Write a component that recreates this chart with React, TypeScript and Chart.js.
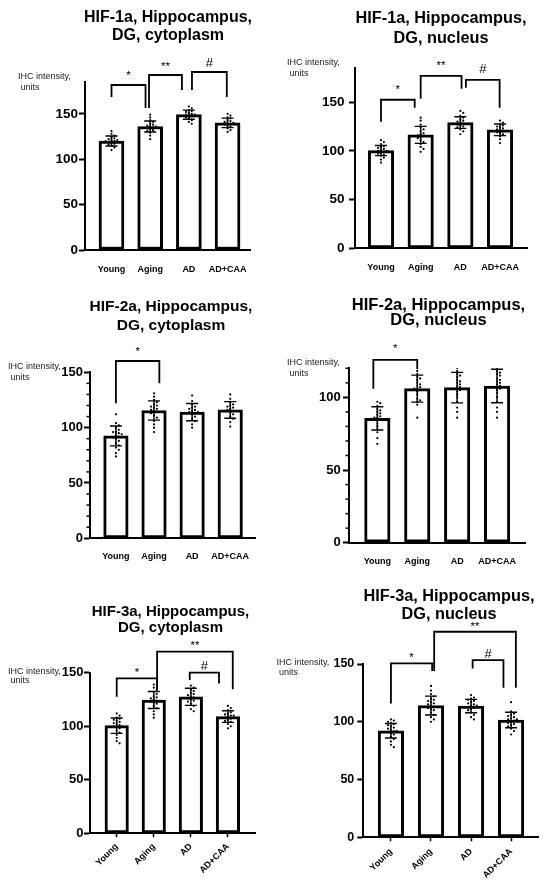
import React, { useEffect, useRef } from 'react';
import { Chart, registerables } from 'chart.js';

Chart.register(...registerables);

const FONT = '"Liberation Sans", Arial, Helvetica, sans-serif';
Chart.defaults.font.family = FONT;

// ---------------- data ----------------
const categories = ['Young', 'Aging', 'AD', 'AD+CAA'];
const yAxisTitleLines = ['IHC intensity,', ' units'];

// HIF-1a, cytoplasm
const hif1CytoTitle = ['HIF-1a, Hippocampus,', 'DG, cytoplasm'];
const hif1CytoMeans = [120, 136, 149, 140];
const hif1CytoSD = [5.5, 6, 5, 5.2];
const hif1CytoDots = [
  [131, 128, 126, 124, 123, 122, 121, 121, 120, 120, 119, 118, 117, 116, 115, 113, 110],
  [149, 146, 143, 141, 139, 138, 137, 136, 136, 135, 134, 133, 132, 131, 129, 126, 122],
  [158, 156, 154, 153, 152, 151, 150, 149, 149, 148, 147, 146, 145, 143, 141, 139],
  [150, 148, 146, 145, 143, 142, 141, 140, 140, 139, 138, 137, 136, 134, 132, 130],
];
const hif1CytoTicks = [0, 50, 100, 150];
const hif1CytoBrackets = [
  { from: 0, to: 0.88, top: 181.7, leftEnd: 168.5, rightEnd: 156.4, label: '*' },
  { from: 0.97, to: 1.82, top: 192.7, leftEnd: 156.4, rightEnd: 176.2, label: '**' },
  { from: 2.08, to: 2.98, top: 196, leftEnd: 176.2, rightEnd: 168.5, label: '#' },
];

// HIF-1a, nucleus
const hif1NucTitle = ['HIF-1a, Hippocampus,', 'DG, nucleus'];
const hif1NucMeans = [100.3, 116.4, 129, 121.6];
const hif1NucSD = [5.2, 8.7, 6, 6];
const hif1NucDots = [
  [111, 109, 107, 105, 104, 103, 102, 101, 100, 100, 99, 98, 97, 96, 95, 93, 91, 88],
  [134, 131, 127, 124, 122, 120, 118, 117, 116, 115, 114, 113, 111, 109, 107, 104, 102, 99],
  [141, 139, 136, 134, 132, 131, 130, 129, 128, 127, 126, 125, 124, 122, 120, 117],
  [131, 129, 127, 126, 125, 124, 123, 122, 121, 120, 119, 118, 117, 115, 112, 108],
];
const hif1NucTicks = [0, 50, 100, 150];
const hif1NucBrackets = [
  { from: 0, to: 0.85, top: 152.4, leftEnd: 129.8, rightEnd: 144.2, label: '*' },
  { from: 1.0, to: 2.03, top: 177, leftEnd: 153.4, rightEnd: 163.7, label: '**' },
  { from: 2.14, to: 2.99, top: 172.9, leftEnd: 164.7, rightEnd: 144.2, label: '#' },
];

// HIF-2a, cytoplasm
const hif2CytoTitle = ['HIF-2a, Hippocampus,', 'DG, cytoplasm'];
const hif2CytoMeans = [92.5, 115.5, 114, 116];
const hif2CytoSD = [9, 8.7, 7.8, 7.5];
const hif2CytoDots = [
  [112, 104, 102, 100, 98, 96, 96, 95, 94, 93, 92, 91, 90, 88, 86, 84, 82, 80, 77, 74],
  [131, 128, 125, 123, 121, 120, 119, 118, 117, 116, 115, 114, 113, 111, 109, 106, 103, 100, 96],
  [129, 124, 121, 119, 118, 117, 116, 115, 114, 114, 113, 112, 110, 108, 106, 103, 100],
  [130, 126, 123, 121, 120, 119, 118, 117, 116, 115, 114, 112, 110, 108, 105, 101],
];
const hif2CytoTicks = [0, 50, 100, 150];
const hif2CytoBrackets = [
  { from: 0, to: 1.14, top: 160.2, leftEnd: 122, rightEnd: 140, label: '*' },
];

// HIF-2a, nucleus
const hif2NucTitle = ['HIF-2a, Hippocampus,', 'DG, nucleus'];
const hif2NucMeans = [85.5, 106, 106.7, 107.8];
const hif2NucSD = [8, 9.3, 10.5, 11.5];
const hif2NucDots = [
  [97, 96, 94, 92, 91, 90, 89, 88, 87, 86, 86, 85, 84, 82, 80, 78, 76, 72, 68],
  [118, 116, 114, 113, 112, 110, 109, 108, 107, 106, 106, 105, 104, 102, 99, 98, 97, 95, 86],
  [120, 118, 116, 115, 114, 112, 111, 110, 109, 108, 107, 106, 105, 104, 102, 100, 97, 93, 90, 86],
  [120, 118, 117, 116, 115, 113, 112, 111, 110, 109, 108, 107, 106, 105, 103, 100, 97, 93, 90, 86],
];
const hif2NucTicks = [0, 50, 100];
const hif2NucBrackets = [
  { from: -0.1, to: 1.0, top: 125.8, leftEnd: 106, rightEnd: 119.4, label: '*' },
];

// HIF-3a, cytoplasm
const hif3CytoTitle = ['HIF-3a, Hippocampus,', 'DG, cytoplasm'];
const hif3CytoMeans = [100.5, 124.5, 127.5, 109];
const hif3CytoSD = [7.2, 8, 8, 5.4];
const hif3CytoDots = [
  [112, 110, 108, 107, 106, 105, 104, 103, 102, 101, 100, 100, 99, 98, 96, 94, 92, 89, 86, 84],
  [139, 136, 134, 132, 130, 128, 127, 126, 125, 124, 123, 122, 121, 119, 117, 114, 111, 108],
  [138, 136, 134, 133, 131, 130, 129, 128, 127, 126, 125, 124, 123, 121, 119, 116, 114],
  [119, 117, 115, 113, 112, 111, 110, 110, 109, 108, 107, 106, 105, 104, 102, 100, 98],
];
const hif3CytoTicks = [0, 50, 100, 150];
const hif3CytoBrackets = [
  { from: 0, to: 1.09, top: 144.7, leftEnd: 127.5, rightEnd: 133.8, label: '*' },
  { from: 1.09, to: 3.13, top: 169.6, leftEnd: 133.8, rightEnd: 134.5, label: '**' },
  { from: 1.97, to: 2.76, top: 150, leftEnd: 143.1, rightEnd: 140, label: '#' },
];

// HIF-3a, nucleus
const hif3NucTitle = ['HIF-3a, Hippocampus,', 'DG, nucleus'];
const hif3NucMeans = [92.2, 114, 113.6, 101.5];
const hif3NucSD = [6.3, 8.2, 5.8, 6.7];
const hif3NucDots = [
  [102, 101, 100, 99, 98, 97, 96, 95, 94, 93, 92, 92, 91, 90, 89, 87, 85, 83, 80, 78],
  [131, 127, 124, 122, 120, 119, 118, 117, 116, 115, 114, 113, 112, 111, 110, 108, 106, 104, 102, 100],
  [123, 121, 120, 119, 118, 117, 116, 115, 114, 114, 113, 112, 111, 110, 108, 106, 104, 102],
  [117, 109, 107, 106, 105, 104, 103, 102, 102, 101, 100, 99, 98, 97, 96, 94, 92, 89],
];
const hif3NucTicks = [0, 50, 100, 150];
const hif3NucBrackets = [
  { from: 0, to: 1.03, top: 150.5, leftEnd: 115.9, rightEnd: 143.9, label: '*' },
  { from: 1.08, to: 3.12, top: 177.9, leftEnd: 143.9, rightEnd: 129.4, label: '**' },
  { from: 2.04, to: 2.81, top: 153.4, leftEnd: 146.2, rightEnd: 129.4, label: '#' },
];

// ---------------- layout (page pixel coordinates) ----------------
const layout1 = {
  canvas: [0, 0, 275, 290], plot: [85, 82, 250, 250], xRange: [-0.685, 3.58], yMax: 185,
  barW: 25, tickSize: 13.5, tickPad: 1, minor: 0, rotated: false, xPad: 10.5,
  title: [168, 17.7, 35.7, 16], yTitle: [18, 77, 88], gap: 5.5,
};
const layout2 = {
  canvas: [275, 0, 275, 290], plot: [355, 68, 527, 248.3], xRange: [-0.655, 3.68], yMax: 185,
  barW: 25.5, tickSize: 13.5, tickPad: 4.5, minor: 0, rotated: false, xPad: 10.3,
  title: [441, 18.3, 38.3, 16.3], yTitle: [287, 63, 74], gap: 7,
};
const layout3 = {
  canvas: [0, 290, 275, 300], plot: [90, 372.3, 255, 538.3], xRange: [-0.68, 3.65], yMax: 150,
  barW: 24.5, tickSize: 13, tickPad: 1, minor: 10, rotated: false, xPad: 9,
  title: [171, 306.7, 326, 15.5], yTitle: [8, 367, 378], gap: 6.4,
};
const layout4 = {
  canvas: [275, 290, 275, 300], plot: [349, 368.3, 525, 542.7], xRange: [-0.71, 3.7], yMax: 120,
  barW: 25.5, tickSize: 13, tickPad: 2.3, minor: 10, rotated: false, xPad: 9.6,
  title: [438.5, 305, 320.7, 16.5], yTitle: [287, 362.7, 373.3], gap: 7.5,
};
const layout5 = {
  canvas: [0, 590, 275, 302], plot: [90, 672.7, 255, 833.3], xRange: [-0.72, 3.73], yMax: 150,
  barW: 23.5, tickSize: 13, tickPad: 0.5, minor: 0, rotated: true, xPad: 4,
  title: [170.5, 611.7, 628.3, 15], yTitle: [8, 671.7, 681], gap: 2.5,
};
const layout6 = {
  canvas: [275, 585, 275, 307], plot: [363.3, 664, 538.3, 837.3], xRange: [-0.69, 3.68], yMax: 150,
  barW: 25.5, tickSize: 12.5, tickPad: 3, minor: 0, rotated: true, xPad: 5,
  title: [449, 596.7, 615, 16.3], yTitle: [276.5, 662.7, 672.3], gap: 2,
};

const panels = [
  { key: 'p1', title: hif1CytoTitle, means: hif1CytoMeans, sd: hif1CytoSD, dots: hif1CytoDots, yTicks: hif1CytoTicks, brackets: hif1CytoBrackets, layout: layout1 },
  { key: 'p2', title: hif1NucTitle, means: hif1NucMeans, sd: hif1NucSD, dots: hif1NucDots, yTicks: hif1NucTicks, brackets: hif1NucBrackets, layout: layout2 },
  { key: 'p3', title: hif2CytoTitle, means: hif2CytoMeans, sd: hif2CytoSD, dots: hif2CytoDots, yTicks: hif2CytoTicks, brackets: hif2CytoBrackets, layout: layout3 },
  { key: 'p4', title: hif2NucTitle, means: hif2NucMeans, sd: hif2NucSD, dots: hif2NucDots, yTicks: hif2NucTicks, brackets: hif2NucBrackets, layout: layout4 },
  { key: 'p5', title: hif3CytoTitle, means: hif3CytoMeans, sd: hif3CytoSD, dots: hif3CytoDots, yTicks: hif3CytoTicks, brackets: hif3CytoBrackets, layout: layout5 },
  { key: 'p6', title: hif3NucTitle, means: hif3NucMeans, sd: hif3NucSD, dots: hif3NucDots, yTicks: hif3NucTicks, brackets: hif3NucBrackets, layout: layout6 },
];

// simple beeswarm: horizontal offsets (in category units) so dots don't overlap
function swarmOffsets(values: number[], pxPerY: number, pxPerX: number): number[] {
  const d = 2.9;
  const placed: { x: number; y: number }[] = [];
  return values.map((v) => {
    const py = v * pxPerY;
    for (let k = 0; k < 60; k++) {
      const step = Math.ceil(k / 2) * (k % 2 ? 1 : -1);
      const px = step * d;
      if (placed.every((p) => (p.x - px) ** 2 + (p.y - py) ** 2 >= d * d * 0.8)) {
        placed.push({ x: px, y: py });
        return px / pxPerX;
      }
    }
    return 0;
  });
}

function makeExtras(spec: any) {
  const L = spec.layout;
  const ox = L.canvas[0];
  const oy = L.canvas[1];
  return {
    id: 'extras-' + spec.key,
    afterDatasetsDraw(chart: any) {
      const ctx = chart.ctx;
      const x = chart.scales.x;
      const y = chart.scales.y;
      const cap = 6;
      ctx.save();
      ctx.strokeStyle = '#000';
      ctx.lineWidth = 1.4;
      spec.means.forEach((m: number, i: number) => {
        const cx = x.getPixelForValue(i);
        const t = y.getPixelForValue(m + spec.sd[i]);
        const b = y.getPixelForValue(m - spec.sd[i]);
        ctx.beginPath();
        ctx.moveTo(cx, t);
        ctx.lineTo(cx, b);
        ctx.moveTo(cx - cap, t);
        ctx.lineTo(cx + cap, t);
        ctx.moveTo(cx - cap, b);
        ctx.lineTo(cx + cap, b);
        ctx.stroke();
      });
      ctx.restore();
    },
    afterDraw(chart: any) {
      const ctx = chart.ctx;
      const x = chart.scales.x;
      const y = chart.scales.y;
      const area = chart.chartArea;
      ctx.save();
      // minor ticks
      if (L.minor) {
        ctx.strokeStyle = '#000';
        ctx.lineWidth = 1.5;
        for (let v = L.minor; v <= L.yMax + 0.001; v += L.minor) {
          if (spec.yTicks.includes(v)) continue;
          const py = y.getPixelForValue(v);
          ctx.beginPath();
          ctx.moveTo(area.left - 3.5, py);
          ctx.lineTo(area.left, py);
          ctx.stroke();
        }
      }
      // title
      const [tcx, ty1, ty2, tsize] = L.title;
      ctx.fillStyle = '#000';
      ctx.font = `bold ${tsize}px ${FONT}`;
      ctx.textAlign = 'center';
      ctx.textBaseline = 'middle';
      ctx.fillText(spec.title[0], tcx - ox, ty1 - oy);
      ctx.fillText(spec.title[1], tcx - ox, ty2 - oy);
      // y axis title
      const [yx, yy1, yy2] = L.yTitle;
      ctx.fillStyle = '#222';
      ctx.font = `9px ${FONT}`;
      ctx.textAlign = 'left';
      ctx.fillText(yAxisTitleLines[0], yx - ox, yy1 - oy);
      ctx.fillText(yAxisTitleLines[1], yx - ox, yy2 - oy);
      // significance brackets
      ctx.strokeStyle = '#000';
      ctx.lineWidth = 1.8;
      ctx.lineJoin = 'miter';
      ctx.fillStyle = '#000';
      spec.brackets.forEach((b: any) => {
        const x1 = x.getPixelForValue(b.from);
        const x2 = x.getPixelForValue(b.to);
        const yt = y.getPixelForValue(b.top);
        const yl = y.getPixelForValue(b.leftEnd);
        const yr = y.getPixelForValue(b.rightEnd);
        ctx.beginPath();
        ctx.moveTo(x1, yl);
        ctx.lineTo(x1, yt);
        ctx.lineTo(x2, yt);
        ctx.lineTo(x2, yr);
        ctx.stroke();
        ctx.font = b.label === '#' ? `13px ${FONT}` : `11.5px ${FONT}`;
        ctx.textAlign = 'center';
        ctx.textBaseline = 'alphabetic';
        ctx.fillText(b.label, (x1 + x2) / 2, yt - L.gap);
      });
      ctx.restore();
    },
  };
}

function buildChart(canvas: HTMLCanvasElement, spec: any) {
  const L = spec.layout;
  const [cx, cy, cw, ch] = L.canvas;
  const [pl, pt, pr, pb] = L.plot;
  const pxPerY = (pb - pt) / L.yMax;
  const pxPerX = (pr - pl) / (L.xRange[1] - L.xRange[0]);
  const points: { x: number; y: number }[] = [];
  spec.dots.forEach((grp: number[], i: number) => {
    const offs = swarmOffsets(grp, pxPerY, pxPerX);
    grp.forEach((v, k) => points.push({ x: i + offs[k], y: v }));
  });
  const bars = spec.means.map((m: number, i: number) => ({ x: i, y: m }));

  return new Chart(canvas, {
    type: 'bar',
    data: {
      datasets: [
        {
          type: 'scatter',
          data: points,
          pointRadius: 1.1,
          pointBackgroundColor: '#000',
          pointBorderColor: '#000',
          pointBorderWidth: 0,
          order: 1,
        } as any,
        {
          type: 'bar',
          data: bars,
          backgroundColor: '#fff',
          borderColor: '#000',
          borderWidth: 3,
          borderSkipped: false,
          barThickness: L.barW,
          order: 2,
        } as any,
      ],
    },
    options: {
      animation: false,
      responsive: false,
      maintainAspectRatio: false,
      events: [],
      layout: {
        autoPadding: false,
        padding: { left: 0, top: pt - cy, right: cx + cw - pr, bottom: 0 },
      },
      plugins: {
        legend: { display: false },
        tooltip: { enabled: false },
        title: { display: false },
      },
      scales: {
        x: {
          type: 'linear',
          position: 'bottom',
          min: L.xRange[0],
          max: L.xRange[1],
          offset: false,
          grid: {
            display: L.rotated,
            offset: false,
            drawOnChartArea: false,
            drawTicks: true,
            tickLength: 4,
            tickWidth: 1.5,
            tickColor: '#000',
          },
          border: { display: true, color: '#000', width: 2 },
          ticks: {
            color: '#000',
            font: { size: 9, weight: 'bold' },
            padding: L.xPad,
            autoSkip: false,
            maxRotation: L.rotated ? 45 : 0,
            minRotation: L.rotated ? 45 : 0,
            callback: (_v: any, i: number) => categories[i],
          },
          afterBuildTicks: (s: any) => {
            s.ticks = categories.map((_c, i) => ({ value: i }));
          },
          afterFit: (s: any) => {
            s.height = cy + ch - pb;
          },
        } as any,
        y: {
          type: 'linear',
          position: 'left',
          min: 0,
          max: L.yMax,
          grid: {
            display: true,
            drawOnChartArea: false,
            drawTicks: true,
            tickLength: 6,
            tickWidth: 2,
            tickColor: '#000',
          },
          border: { display: true, color: '#000', width: 2 },
          ticks: {
            color: '#000',
            font: { size: L.tickSize, weight: 'bold' },
            padding: L.tickPad,
          },
          afterBuildTicks: (s: any) => {
            s.ticks = spec.yTicks.map((v: number) => ({ value: v }));
          },
          afterFit: (s: any) => {
            s.width = pl - cx;
          },
        } as any,
      },
    },
    plugins: [makeExtras(spec)],
  });
}

function Panel({ spec }: { spec: any }) {
  const ref = useRef<HTMLCanvasElement | null>(null);
  useEffect(() => {
    if (!ref.current) return;
    const chart = buildChart(ref.current, spec);
    return () => chart.destroy();
  }, [spec]);
  const [cx, cy, cw, ch] = spec.layout.canvas;
  return (
    <canvas
      ref={ref}
      width={cw}
      height={ch}
      style={{ position: 'absolute', left: cx, top: cy, width: cw, height: ch }}
    />
  );
}

export default function App() {
  return (
    <div style={{ position: 'absolute', left: 0, top: 0, width: 550, height: 892, background: '#fff', overflow: 'hidden' }}>
      {panels.map((p) => (
        <Panel key={p.key} spec={p} />
      ))}
    </div>
  );
}
